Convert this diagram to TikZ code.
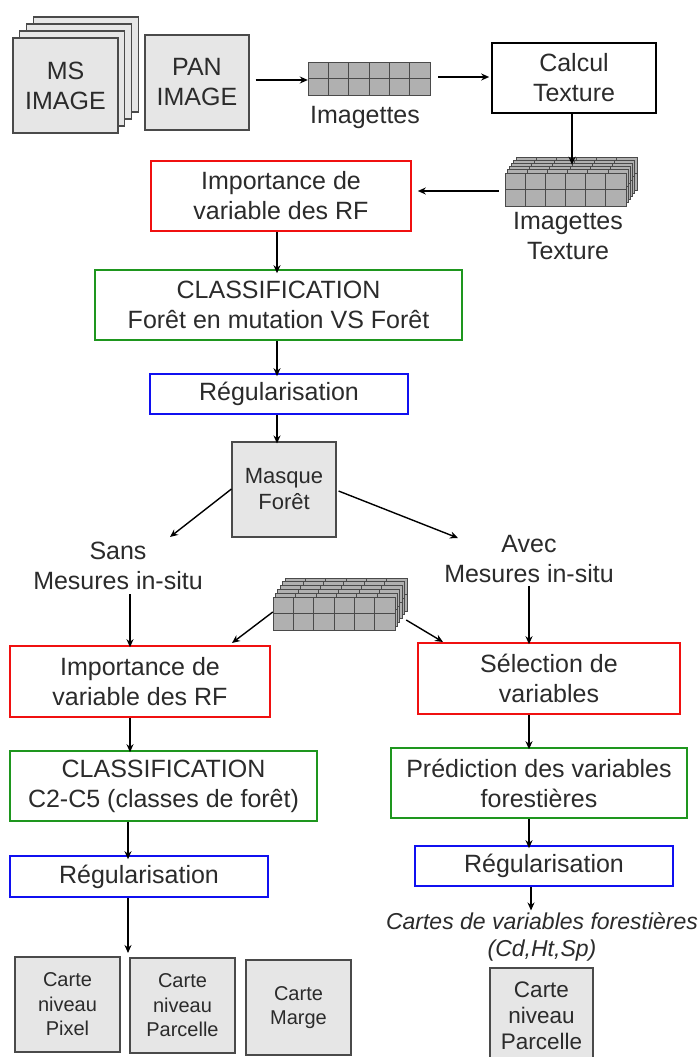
\documentclass[tikz,border=0pt]{standalone}
\usepackage{fontspec}
\setmainfont{Liberation Sans}
\usetikzlibrary{arrows.meta}
\definecolor{txt}{HTML}{2B2B2B}
\definecolor{boxgray}{HTML}{E6E6E6}
\definecolor{edgegray}{HTML}{4A4A4A}
\definecolor{cellgray}{HTML}{B0B0B0}
\definecolor{rfred}{HTML}{F01010}
\definecolor{clsgreen}{HTML}{1E961E}
\definecolor{regblue}{HTML}{1010F0}
\newcommand{\mygrid}[4]{%
  \foreach \i in {0,...,5}{\foreach \j in {0,1}{%
    \filldraw[cell] ({#1+\i*#3},{#2+\j*#4}) rectangle ++(#3,#4);}}}
\begin{document}
\begin{tikzpicture}[x=1pt,y=-1pt,
  big/.style={font=\fontsize{25}{30}\selectfont, text=txt, align=center, inner sep=0pt},
  box/.style={big, draw, line width=1.6pt},
  graybox/.style={draw=edgegray, fill=boxgray, line width=1.1pt, text=txt, align=center, inner sep=0pt},
  redbox/.style={box, draw=rfred},
  greenbox/.style={box, draw=clsgreen},
  bluebox/.style={box, draw=regblue},
  blackbox/.style={box, draw=black},
  cell/.style={fill=cellgray, draw=edgegray, line width=0.8pt},
  arr/.style={line width=1.4pt, -{Stealth[length=8pt,width=7pt]}},
  hold/.style={inner sep=0pt, minimum width=#1}]
\useasboundingbox (0,0) rectangle (699,1057);
\clip (0,0) rectangle (699,1057);
\fill[white] (0,0) rectangle (699,1057);

% MS image stack
\foreach \k in {3,2,1} {
  \filldraw[draw=edgegray, fill=boxgray, line width=1.1pt] ({13+\k*6.7},{38-\k*7}) rectangle ++(105,95);
}
\node[graybox, minimum width=105pt, minimum height=95pt, font=\fontsize{25}{30}\selectfont] (ms) at (65.5,85.5) {MS\\IMAGE};
\node[graybox, minimum width=104pt, minimum height=95pt, font=\fontsize{25}{30}\selectfont] (pan) at (197,82.5) {PAN\\IMAGE};

% Imagettes
\mygrid{308}{62}{20.33}{16.5}
\node[inner sep=0pt, minimum width=122pt, minimum height=33pt] (imag) at (369,78.5) {};
\node[big] (imaglbl) at (365,117) {Imagettes};

% Calcul texture
\node[blackbox, minimum width=164pt, minimum height=70pt] (calc) at (574,78) {Calcul\\Texture};

% Texture stack
\foreach \k in {5,4,...,0} { \mygrid{505+\k*2.2}{173-\k*3.2}{20.17}{16.5} }
\node[inner sep=0pt, minimum width=132pt, minimum height=49pt] (tex) at (571,181.5) {};
\node[big] (texlbl) at (568,236) {Imagettes\\Texture};

% Main chain
\node[redbox, minimum width=260pt, minimum height=70pt] (imp1) at (281,196) {Importance de\\variable des RF};
\node[greenbox, minimum width=367pt, minimum height=70pt] (cls1) at (278.5,305) {CLASSIFICATION\\Forêt en mutation VS Forêt};
\node[bluebox, minimum width=258pt, minimum height=40pt] (reg1) at (279,394) {Régularisation};
\node[graybox, minimum width=104pt, minimum height=95pt, font=\fontsize{22}{26}\selectfont] (mask) at (284,489.5) {Masque\\Forêt};

\node[big] (sans) at (118,566) {Sans\\Mesures in-situ};
\node[big] (avec) at (529,559) {Avec\\Mesures in-situ};

% Middle stack
\foreach \k in {5,4,...,0} { \mygrid{273+\k*2.4}{597-\k*3.8}{20.33}{16.5} }
\node[inner sep=0pt, minimum width=134pt, minimum height=52pt] (mid) at (340,604) {};

% Left branch
\node[redbox, minimum width=260pt, minimum height=71pt] (imp2) at (140,681.5) {Importance de\\variable des RF};
\node[greenbox, minimum width=307pt, minimum height=70pt] (cls2) at (163.5,786) {CLASSIFICATION\\C2-C5 (classes de forêt)};
\node[bluebox, minimum width=258pt, minimum height=41pt] (reg2) at (139,876.5) {Régularisation};
\node[graybox, minimum width=105pt, minimum height=95pt, font=\fontsize{20}{24.5}\selectfont] (c1) at (67.5,1004.5) {Carte\\niveau\\Pixel};
\node[graybox, minimum width=105pt, minimum height=95pt, font=\fontsize{20}{24.5}\selectfont] (c2) at (182.5,1005.5) {Carte\\niveau\\Parcelle};
\node[graybox, minimum width=105pt, minimum height=95pt, font=\fontsize{20}{24.5}\selectfont] (c3) at (298.5,1007.5) {Carte\\Marge};
\coordinate (lend) at (128,953);

% Right branch
\node[redbox, minimum width=262pt, minimum height=71pt] (sel) at (549,678.5) {Sélection de\\variables};
\node[greenbox, minimum width=296pt, minimum height=70pt] (pred) at (539,783) {Prédiction des variables\\forestières};
\node[bluebox, minimum width=258pt, minimum height=40pt] (reg3) at (544,866) {Régularisation};
\node[big, font=\fontsize{23}{27}\selectfont\itshape] (cartes) at (542,937) {Cartes de variables forestières\\(Cd,Ht,Sp)};
\node[graybox, minimum width=103pt, minimum height=96pt, font=\fontsize{22.5}{26}\selectfont] (c4) at (541.5,1016) {Carte\\niveau\\Parcelle};

% Connectors
\draw[arr] ([xshift=6pt]pan.east |- 0,80) -- (imag.west |- 0,80);
\draw[arr] ([xshift=8pt]imag.east |- 0,77) -- ([xshift=-2pt]calc.west |- 0,77);
\draw[arr] (calc.south -| 572,0) -- ([yshift=-8pt]tex.north -| 572,0);
\draw[arr] ([xshift=-6pt]tex.west |- 0,191) -- ([xshift=6pt]imp1.east |- 0,191);
\draw[arr] (imp1.south -| 277,0) -- ([yshift=-4pt]cls1.north -| 277,0);
\draw[arr] (cls1.south -| 277,0) -- ([yshift=-3pt]reg1.north -| 277,0);
\draw[arr] (reg1.south -| 277,0) -- ([yshift=-2pt]mask.north -| 277,0);
\draw[arr] (mask.west |- 0,489) -- (170,537);
\draw[arr] ([xshift=2pt]mask.east |- 0,491) -- (458,538);
\draw[arr] ([yshift=-4pt]sans.south -| 130,0) -- ([yshift=-2pt]imp2.north -| 130,0);
\draw[arr] ([yshift=-3pt]avec.south -| 529,0) -- ([yshift=-2pt]sel.north -| 529,0);
\draw[arr] (mid.west |- 0,612) -- (232,643);
\draw[arr] ([xshift=-1pt]mid.east |- 0,620) -- (443,642);
\draw[arr] (imp2.south -| 130,0) -- ([yshift=-2pt]cls2.north -| 130,0);
\draw[arr] (sel.south -| 529,0) -- ([yshift=-2pt]pred.north -| 529,0);
\draw[arr] (cls2.south -| 128,0) -- ([yshift=-4pt]reg2.north -| 128,0);
\draw[arr] (pred.south -| 529,0) -- ([yshift=-3pt]reg3.north -| 529,0);
\draw[arr] (reg2.south -| 128,0) -- (lend);
\draw[arr] (reg3.south -| 531,0) -- ([yshift=2pt]cartes.north -| 531,0);
\end{tikzpicture}
\end{document}
